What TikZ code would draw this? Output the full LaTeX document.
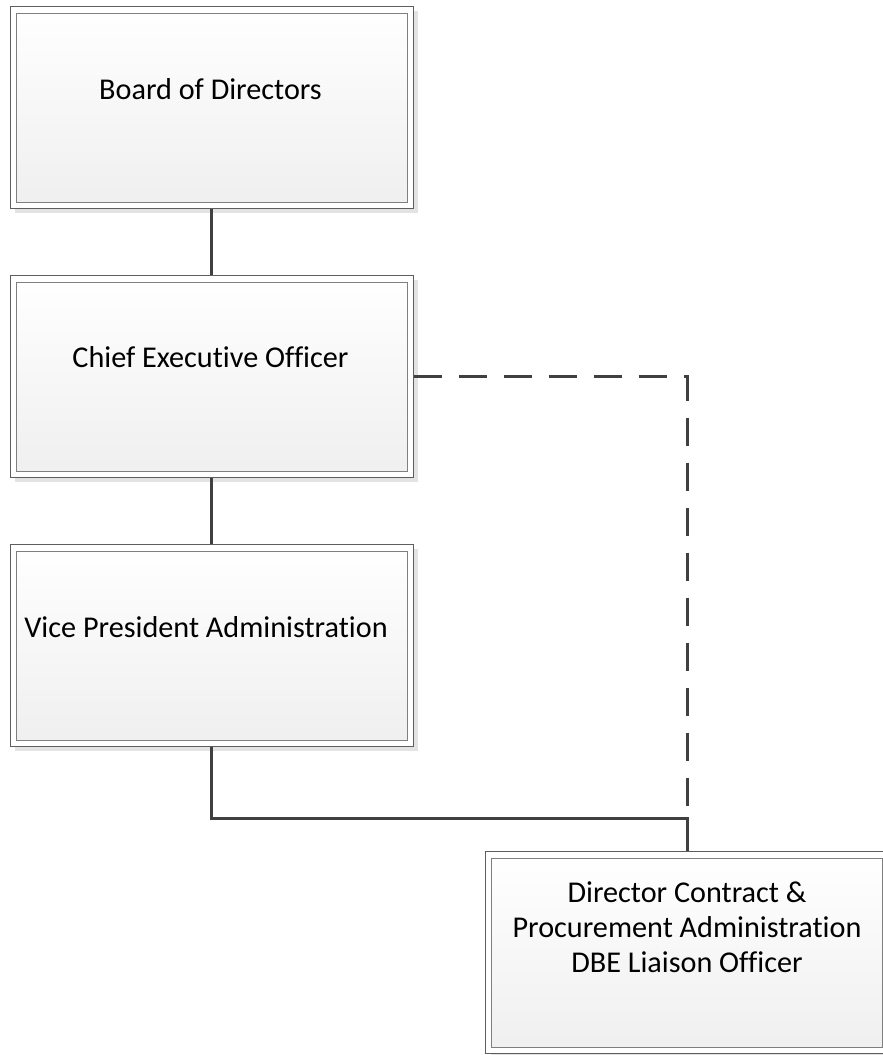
\documentclass[tikz,border=0pt]{standalone}
\usepackage{fontspec}
\setmainfont{Carlito}[Ligatures={NoCommon}]
\usetikzlibrary{shadows}
\definecolor{linec}{HTML}{404040}
\definecolor{outerc}{HTML}{5E5E5E}
\definecolor{innerc}{HTML}{7F7F7F}
\definecolor{boxbot}{HTML}{EFEFEF}
\definecolor{shadowc}{HTML}{E3E3E3}
\tikzset{
  orgbox/.style={draw=outerc, line width=1pt, fill=white,
    minimum width=403pt, minimum height=202pt, inner sep=0pt,
    drop shadow={shadow xshift=5pt, shadow yshift=-5pt, fill=shadowc, opacity=1},
    path picture={
      \shade[top color=white, bottom color=boxbot, draw=innerc, line width=1pt]
        ([shift={(6pt,-7pt)}]path picture bounding box.north west) rectangle
        ([shift={(-6pt,6pt)}]path picture bounding box.south east);
    }},
  lbl/.style={font=\fontsize{30.2}{35}\selectfont, anchor=base, inner sep=0pt, text=black},
  conn/.style={draw=linec, line width=3pt},
  dotted link/.style={draw=linec, line width=3pt, dash pattern=on 28pt off 17pt}
}
\begin{document}
\begin{tikzpicture}[x=1pt, y=-1pt]
\useasboundingbox (0,0) rectangle (883,1055);
\clip (0,0) rectangle (883,1055);
\node[orgbox] (bod) at (211.5,107) {};
\node[orgbox] (ceo) at (211.5,376) {};
\node[orgbox] (vp)  at (211.5,645) {};
\node[orgbox] (dir) at (687,952.5) {};
\node[lbl] (bodt) at (210.5,99) {Board of Directors};
\node[lbl] (ceot) at (210.5,367) {Chief Executive Officer};
\node[lbl] (vpt)  at (206,637) {Vice President Administration};
\node[lbl] (dirt1) at (687,902) {Director Contract \&};
\node[lbl] (dirt2) at (687,937) {Procurement Administration};
\node[lbl] (dirt3) at (687,972) {DBE Liaison Officer};
\coordinate (j) at (687,818);
\draw[conn] (bod.south) -- (ceo.north);
\draw[conn] (ceo.south) -- (vp.north);
\draw[conn] (vp.south) |- (j) -- (dir.north);
\draw[dotted link] (ceo.east) -| (j);
\end{tikzpicture}
\end{document}
